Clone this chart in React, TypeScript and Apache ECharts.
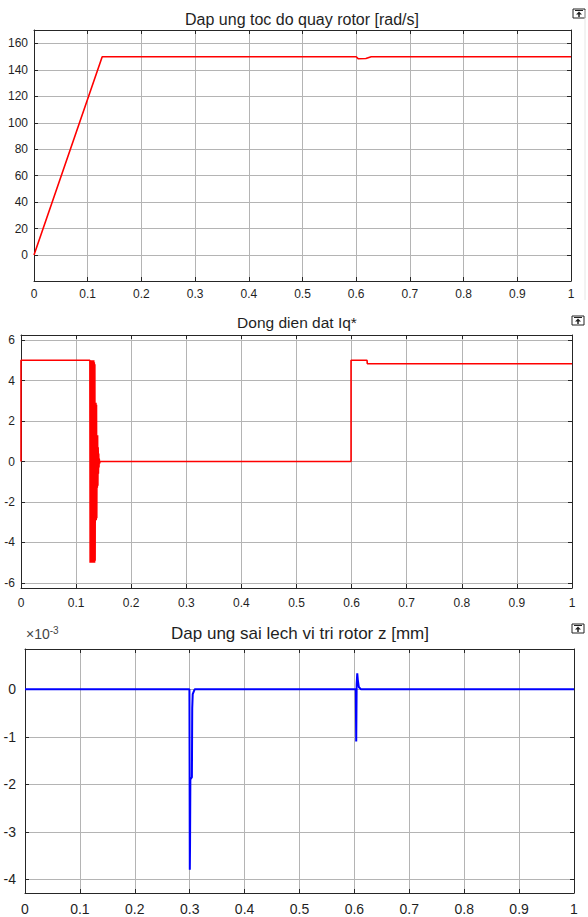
import React, { useEffect, useRef } from 'react';
import * as echarts from 'echarts';

// ---------- data ----------
const xTickValues = [0, 0.1, 0.2, 0.3, 0.4, 0.5, 0.6, 0.7, 0.8, 0.9, 1];

const speedTitle = 'Dap ung toc do quay rotor [rad/s]';
const speedTime = [0, 0.127, 0.6, 0.604, 0.618, 0.628, 1];
const speedValue = [0, 150, 150, 148.4, 148.6, 150, 150];
const speedTicks = [0, 20, 40, 60, 80, 100, 120, 140, 160];

const iqTitle = 'Dong dien dat Iq*';
const iqTime = [
  0, 0, 0.125, 0.1255, 0.126, 0.1265, 0.127, 0.1275, 0.128, 0.1285, 0.129, 0.1295,
  0.13, 0.1305, 0.131, 0.1315, 0.132, 0.1325, 0.133, 0.1335, 0.134, 0.1345,
  0.135, 0.1355, 0.136, 0.1365, 0.137, 0.1375, 0.138, 0.1385, 0.139, 0.1395,
  0.14, 0.1405, 0.141, 0.1415, 0.142, 0.1425, 0.1435, 0.599, 0.599, 0.628, 0.6285, 1,
];
const iqValue = [
  0, 5, 5, -5, 5, -5, 5, -5, 5, -5, 5, -5,
  5, -5, 5, -5, 5, -5, 4.9, -5, 4.8, -4.9,
  2.9, -2.9, 2.9, -2.9, 2.8, -2.8, 1.3, -1.3, 1.3, -1.2,
  0.7, -0.6, 0.4, -0.3, 0.15, -0.1, 0, 0, 5, 5, 4.83, 4.83,
];
const iqTicks = [-6, -4, -2, 0, 2, 4, 6];

const zTitle = 'Dap ung sai lech vi tri rotor z [mm]';
const zTime = [0, 0.2995, 0.3002, 0.3006, 0.3012, 0.304, 0.3046, 0.3055, 0.309,
  0.6025, 0.6033, 0.6041, 0.6052, 0.6062, 0.608, 0.612, 1];
const zValue = [0, 0, -3.8, -3.3, -1.9, -1.85, -0.4, -0.1, 0,
  0, -1.1, 0.1, 0.34, 0.2, 0.05, 0, 0];
const zTicks = [-4, -3, -2, -1, 0];
const zExponent = '-3';

// ---------- helpers ----------
const FONT = '"Liberation Sans", Arial, sans-serif';
const TEXT = '#1f1f1f';
const GRIDC = '#b4b4b4';
const BOX = '#262626';

const pairs = (t: number[], v: number[]) => t.map((x, i) => [x, v[i]]);

const fmtX = (v: number) => String(+v.toFixed(1));

function makePanel(
  idx: number,
  grid: { left: number; top: number; right: number; height: number },
  yMin: number,
  yMax: number,
  yTicks: number[],
  fontSize: number,
  xMargin: number,
  yMargin: number,
) {
  const g = { ...grid, show: false, containLabel: false };
  const xBottom = {
    type: 'value', gridIndex: idx, min: 0, max: 1, interval: 0.1, position: 'bottom',
    axisLine: { show: true, onZero: false, lineStyle: { color: BOX, width: 1 } },
    axisTick: { show: true, inside: true, length: 4, lineStyle: { color: BOX } },
    axisLabel: { show: true, margin: xMargin, color: TEXT, fontSize, fontFamily: FONT, formatter: fmtX },
    splitLine: { show: true, lineStyle: { color: GRIDC, width: 1 } },
  };
  const xTop = {
    type: 'value', gridIndex: idx, min: 0, max: 1, interval: 0.1, position: 'top',
    axisLine: { show: true, onZero: false, lineStyle: { color: BOX, width: 1 } },
    axisTick: { show: true, inside: true, length: 4, lineStyle: { color: BOX } },
    axisLabel: { show: false },
    splitLine: { show: false },
  };
  const yLeft = {
    type: 'value', gridIndex: idx, min: yMin, max: yMax, position: 'left',
    axisLine: { show: true, onZero: false, lineStyle: { color: BOX, width: 1 } },
    axisTick: { show: true, inside: true, length: 4, customValues: yTicks, lineStyle: { color: BOX } },
    axisLabel: { show: true, margin: yMargin, color: TEXT, fontSize, fontFamily: FONT, customValues: yTicks, formatter: (v: number) => String(v) },
    splitLine: { show: true, lineStyle: { color: GRIDC, width: 1 } },
  };
  const yRight = {
    type: 'value', gridIndex: idx, min: yMin, max: yMax, position: 'right',
    axisLine: { show: true, onZero: false, lineStyle: { color: BOX, width: 1 } },
    axisTick: { show: true, inside: true, length: 4, customValues: yTicks, lineStyle: { color: BOX } },
    axisLabel: { show: false },
    splitLine: { show: false },
  };
  return { g, xAxes: [xBottom, xTop], yAxes: [yLeft, yRight] };
}

function icon(x: number, y: number) {
  return {
    type: 'group', x, y, silent: true,
    children: [
      { type: 'rect', shape: { x: 0, y: 0, width: 12, height: 9 }, style: { fill: '#fff', stroke: '#222', lineWidth: 1 } },
      { type: 'line', shape: { x1: 2, y1: 1.5, x2: 10, y2: 1.5 }, style: { stroke: '#222', lineWidth: 1 } },
      { type: 'polygon', shape: { points: [[6, 2.5], [3, 5.5], [9, 5.5]] }, style: { fill: '#222' } },
      { type: 'line', shape: { x1: 6, y1: 5, x2: 6, y2: 8 }, style: { stroke: '#222', lineWidth: 1.5 } },
    ],
  };
}

export default function App() {
  const ref = useRef<HTMLDivElement>(null);
  useEffect(() => {
    if (!ref.current) return;
    const chart = echarts.init(ref.current, undefined, { renderer: 'svg' });

    const p1 = makePanel(0, { left: 34, top: 30, right: 17, height: 251 }, -19.7, 170.2, speedTicks, 12, 7, 6);
    const p2 = makePanel(1, { left: 21, top: 335, right: 16, height: 253 }, -6.25, 6.25, iqTicks, 12, 9, 6);
    const p3 = makePanel(2, { left: 25, top: 649, right: 14, height: 244 }, -4.29, 0.85, zTicks, 14, 9, 9);

    const option: any = {
      animation: false,
      backgroundColor: '#fff',
      grid: [p1.g, p2.g, p3.g],
      xAxis: [...p1.xAxes, ...p2.xAxes, ...p3.xAxes],
      yAxis: [...p1.yAxes, ...p2.yAxes, ...p3.yAxes],
      series: [
        { type: 'line', xAxisIndex: 0, yAxisIndex: 0, data: pairs(speedTime, speedValue), showSymbol: false, symbol: 'none',
          lineStyle: { color: '#ff0000', width: 1.6 }, z: 5 },
        { type: 'line', xAxisIndex: 2, yAxisIndex: 2, data: pairs(iqTime, iqValue), showSymbol: false, symbol: 'none',
          lineStyle: { color: '#ff0000', width: 1.6 }, z: 5 },
        { type: 'line', xAxisIndex: 4, yAxisIndex: 4, data: pairs(zTime, zValue), showSymbol: false, symbol: 'none',
          lineStyle: { color: '#0000ff', width: 2 }, z: 5 },
      ],
      graphic: [
        { type: 'text', x: 302, y: 19, style: { text: speedTitle, fill: TEXT, font: `16px ${FONT}`, textAlign: 'center', textVerticalAlign: 'middle' } },
        { type: 'text', x: 297, y: 322, style: { text: iqTitle, fill: TEXT, font: `15.5px ${FONT}`, textAlign: 'center', textVerticalAlign: 'middle' } },
        { type: 'text', x: 300, y: 633, style: { text: zTitle, fill: TEXT, font: `17px ${FONT}`, textAlign: 'center', textVerticalAlign: 'middle' } },
        { type: 'text', x: 26, y: 634, style: {
          text: `{a|×10}{b|${zExponent}}`, textVerticalAlign: 'middle',
          rich: {
            a: { fontSize: 14, fontFamily: FONT, fill: '#444', color: '#444' },
            b: { fontSize: 10, fontFamily: FONT, fill: '#444', color: '#444', verticalAlign: 'top', padding: [0, 0, 8, 0] },
          },
        } },
        icon(573, 9),
        icon(572, 316),
        icon(572, 624),
        { type: 'line', shape: { x1: 585, y1: 10, x2: 585, y2: 300 }, style: { stroke: '#e6e6e6', lineWidth: 1 } },
      ],
    };
    chart.setOption(option);
    return () => chart.dispose();
  }, []);
  return <div ref={ref} style={{ position: 'fixed', left: 0, top: 0, width: 588, height: 917, background: '#fff' }} />;
}
